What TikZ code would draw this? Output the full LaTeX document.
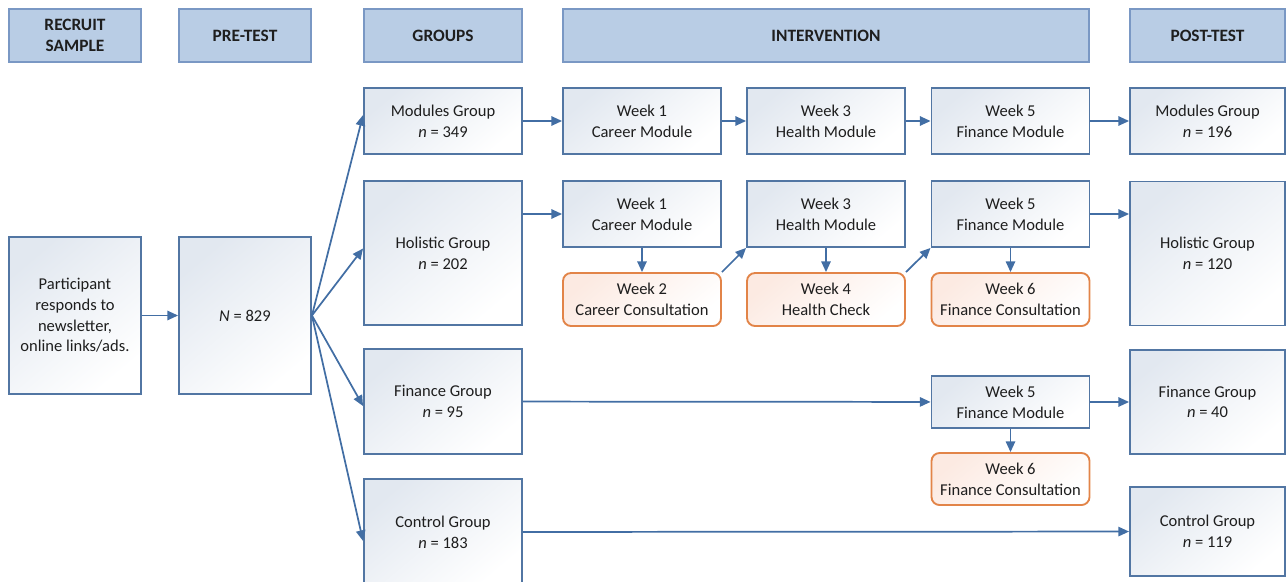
\documentclass[tikz,border=0pt]{standalone}
\usepackage{fontspec}
\setmainfont{Carlito}
\usetikzlibrary{arrows.meta}

\definecolor{hdrfill}{RGB}{185,205,229}
\definecolor{hdrline}{RGB}{122,152,196}
\definecolor{boxline}{RGB}{82,118,163}
\definecolor{boxshade}{RGB}{226,232,240}
\definecolor{conline}{RGB}{226,132,72}
\definecolor{conshade}{RGB}{252,234,226}
\definecolor{arrline}{RGB}{66,110,164}
\definecolor{txtgray}{RGB}{30,30,30}

\begin{document}
\begin{tikzpicture}[x=0.75pt,y=0.75pt,yscale=-1,xscale=1,
  hdr/.style={draw=hdrline, fill=hdrfill, line width=1.1pt, inner sep=0pt, align=center, text=txtgray, font=\bfseries\fontsize{13}{16}\selectfont, minimum height=39.75pt},
  box/.style={draw=boxline, line width=1.4pt, top color=boxshade, bottom color=white, shading angle=40, inner sep=0pt, align=center, text=txtgray, font=\fontsize{12.4}{15.5}\selectfont},
  cons/.style={box, draw=conline, top color=conshade, bottom color=white, shading angle=40, rounded corners=6pt},
  flow/.style={draw=arrline, line width=1.3pt, -{Triangle[length=8pt,width=7pt]}}
]
%set diagram to the size of the reference
\useasboundingbox (0,0) rectangle (1286,582);
\clip (0,0) rectangle (1286,582);

% Header Nodes
\node[hdr, minimum width=99pt] (headrec) at (75,35.5) {RECRUIT\\SAMPLE};
\node[hdr, minimum width=99pt] (headpre) at (245,35.5) {PRE-TEST};
\node[hdr, minimum width=118.5pt] (headgrp) at (443,35.5) {GROUPS};
\node[hdr, minimum width=394.5pt] (headint) at (826,35.5) {INTERVENTION};
\node[hdr, minimum width=116.25pt] (headpost) at (1207.5,35.5) {POST-TEST};

%Shape: Rectangle (recruit, pre-test)
\node[box, minimum width=99pt, minimum height=117.75pt] (recruit) at (75,315.5) {Participant\\responds to\\newsletter,\\online links/ads.};
\node[box, minimum width=99pt, minimum height=117.75pt] (pretest) at (245,315.5) {\textit{N} = 829};

%Shape: Rectangle (groups)
\node[box, minimum width=118.5pt, minimum height=49.5pt] (modgrp) at (443,121) {Modules Group\\\textit{n} = 349};
\node[box, minimum width=118.5pt, minimum height=108pt] (holgrp) at (443,253) {Holistic Group\\\textit{n} = 202};
\node[box, minimum width=118.5pt, minimum height=78.75pt] (fingrp) at (443,401.5) {Finance Group\\\textit{n} = 95};
\node[box, minimum width=118.5pt, minimum height=79.5pt] (ctlgrp) at (443,532) {Control Group\\\textit{n} = 183};

%Shape: Rectangle (modules row)
\node[box, minimum width=118.5pt, minimum height=49.5pt] (modwk1) at (642,121) {Week 1\\Career Module};
\node[box, minimum width=118.5pt, minimum height=49.5pt] (modwk3) at (826,121) {Week 3\\Health Module};
\node[box, minimum width=118.5pt, minimum height=49.5pt] (modwk5) at (1010.5,121) {Week 5\\Finance Module};

%Shape: Rectangle (holistic row)
\node[box, minimum width=118.5pt, minimum height=49.5pt] (holwk1) at (642,214) {Week 1\\Career Module};
\node[box, minimum width=118.5pt, minimum height=49.5pt] (holwk3) at (826,214) {Week 3\\Health Module};
\node[box, minimum width=118.5pt, minimum height=49.5pt] (holwk5) at (1010.5,214) {Week 5\\Finance Module};
%Rounded Rect (consultations)
\node[cons, minimum width=118.5pt, minimum height=39.75pt] (holwk2) at (642,299.5) {Week 2\\Career Consultation};
\node[cons, minimum width=118.5pt, minimum height=39.75pt] (holwk4) at (826,299.5) {Week 4\\Health Check};
\node[cons, minimum width=118.5pt, minimum height=39.75pt] (holwk6) at (1010.5,299.5) {Week 6\\Finance Consultation};

%Shape: Rectangle (finance row)
\node[box, minimum width=118.5pt, minimum height=39pt] (finwk5) at (1010.5,402) {Week 5\\Finance Module};
\node[cons, minimum width=118.5pt, minimum height=39pt] (finwk6) at (1010.5,479) {Week 6\\Finance Consultation};

%Shape: Rectangle (post-test)
\node[box, minimum width=116.25pt, minimum height=49.5pt] (modpost) at (1207.5,121) {Modules Group\\\textit{n} = 196};
\node[box, minimum width=116.25pt, minimum height=108pt] (holpost) at (1207.5,253.5) {Holistic Group\\\textit{n} = 120};
\node[box, minimum width=116.25pt, minimum height=78pt] (finpost) at (1207.5,402) {Finance Group\\\textit{n} = 40};
\node[box, minimum width=116.25pt, minimum height=66.75pt] (ctlpost) at (1207.5,531.5) {Control Group\\\textit{n} = 119};

%Straight Lines
\draw[flow] (recruit) -- (pretest);
\draw[flow] (pretest.east) -- ([yshift=-4.5pt]modgrp.west);
\draw[flow] (pretest.east) -- ([yshift=-3.4pt]holgrp.west);
\draw[flow] (pretest.east) -- ([yshift=3.4pt]fingrp.west);
\draw[flow] (pretest.east) -- ([yshift=6.75pt]ctlgrp.west);

%Straight Lines (modules row)
\draw[flow] (modgrp) -- (modwk1);
\draw[flow] (modwk1) -- (modwk3);
\draw[flow] (modwk3) -- (modwk5);
\draw[flow] (modwk5) -- (modpost);

%Straight Lines (holistic row)
\draw[flow] (holwk1.west -| holgrp.east) -- (holwk1.west);
\draw[flow] (holwk1) -- (holwk2);
\draw[flow] (holwk2.north east) -- (holwk3.south west);
\draw[flow] (holwk3) -- (holwk4);
\draw[flow] (holwk4.north east) -- (holwk5.south west);
\draw[flow] (holwk5) -- (holwk6);
\draw[flow] (holwk5.east) -- (holwk5.east -| holpost.west);

%Straight Lines (finance row)
\draw[flow] (fingrp) -- (finwk5);
\draw[flow] (finwk5) -- (finwk6);
\draw[flow] (finwk5) -- (finpost);

%Straight Lines (control row)
\draw[flow] (ctlgrp) -- (ctlpost);

\end{tikzpicture}
\end{document}
